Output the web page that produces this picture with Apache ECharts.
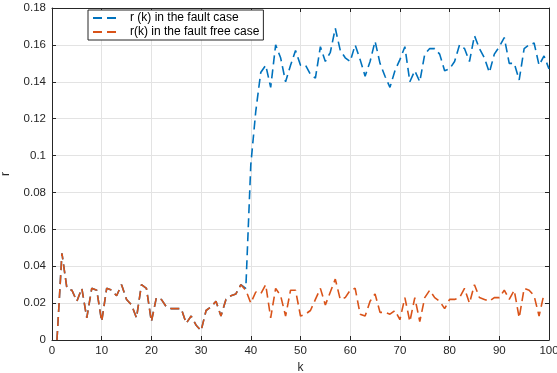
<!DOCTYPE html>
<html><head><meta charset="utf-8">
<script src="https://cdn.jsdelivr.net/npm/echarts@6/dist/echarts.min.js"></script>
<style>html,body{margin:0;padding:0;background:#fff}#c{width:557px;height:373px}</style>
</head><body><div id="c"></div>
<script>
// r(k) in the fault free case, k = 1..99
const faultFree = [0.000,0.047,0.028,0.027,0.021,0.028,0.012,0.028,0.027,0.010,
0.028,0.027,0.024,0.030,0.022,0.019,0.012,0.030,0.028,0.010,
0.023,0.022,0.018,0.017,0.017,0.017,0.009,0.013,0.008,0.005,
0.016,0.018,0.021,0.013,0.022,0.024,0.025,0.030,0.027,0.020,
0.026,0.025,0.030,0.012,0.028,0.024,0.013,0.027,0.027,0.013,
0.014,0.016,0.022,0.028,0.019,0.026,0.033,0.022,0.023,0.027,
0.028,0.014,0.013,0.021,0.025,0.015,0.015,0.014,0.016,0.011,
0.023,0.010,0.023,0.010,0.023,0.027,0.023,0.021,0.017,0.022,
0.022,0.023,0.028,0.020,0.030,0.023,0.022,0.021,0.023,0.023,
0.027,0.022,0.027,0.012,0.028,0.027,0.024,0.013,0.025];
// r(k) in the fault case, k = 1..100
const faultCase = [0.000,0.047,0.028,0.027,0.021,0.028,0.012,0.028,0.027,0.010,
0.028,0.027,0.024,0.030,0.022,0.019,0.012,0.030,0.028,0.010,
0.023,0.022,0.018,0.017,0.017,0.017,0.009,0.013,0.008,0.005,
0.016,0.018,0.021,0.013,0.022,0.024,0.025,0.030,0.028,0.095,
0.124,0.145,0.149,0.137,0.160,0.153,0.140,0.149,0.157,0.149,
0.149,0.144,0.142,0.159,0.151,0.156,0.169,0.157,0.153,0.151,
0.160,0.152,0.143,0.151,0.162,0.150,0.143,0.137,0.146,0.152,
0.159,0.140,0.146,0.140,0.155,0.158,0.158,0.155,0.146,0.147,
0.151,0.160,0.158,0.151,0.165,0.158,0.153,0.145,0.155,0.159,
0.164,0.150,0.150,0.141,0.158,0.160,0.161,0.149,0.154,0.147];
const seriesNames = ['r (k) in the fault case', 'r(k) in the fault free case'];
const xTicks = {min:0, max:100, interval:10};
const yTicks = {min:0, max:0.18, interval:0.02};

const toPairs = arr => arr.map((v,i)=>[i+1, v]);
const axisColor = '#262626';
const font = 'Liberation Sans, Arial, Helvetica, sans-serif';
const chart = echarts.init(document.getElementById('c'));
const baseX = {type:'value', min:xTicks.min, max:xTicks.max, interval:xTicks.interval,
  axisLine:{show:true, onZero:false, lineStyle:{color:axisColor, width:1}},
  axisTick:{show:true, inside:true, length:4, lineStyle:{color:axisColor}},
  splitLine:{show:false}};
const baseY = {type:'value', min:yTicks.min, max:yTicks.max, interval:yTicks.interval,
  axisLine:{show:true, onZero:false, lineStyle:{color:axisColor, width:1}},
  axisTick:{show:true, inside:true, length:4, lineStyle:{color:axisColor}},
  splitLine:{show:false}};
chart.setOption({
  animation:false,
  backgroundColor:'#fff',
  grid:{left:52, right:8, top:8, bottom:33, containLabel:false, outerBoundsMode:'none'},
  legend:{show:true, orient:'vertical', left:88, top:10,
    backgroundColor:'#fff', borderColor:axisColor, borderWidth:1, borderRadius:0,
    padding:[2,4,2,4], itemGap:2, itemWidth:24, itemHeight:10,
    itemStyle:{opacity:0},
    textStyle:{fontFamily:font, fontSize:12, color:'#000', padding:[0,0,0,8]},
    data:seriesNames},
  xAxis:[Object.assign({}, baseX, {position:'bottom', name:'k', nameLocation:'middle', nameGap:16,
      nameTextStyle:{fontFamily:font, fontSize:12, color:axisColor},
      axisLabel:{fontFamily:font, fontSize:11.5, color:axisColor, margin:5},
      splitLine:{show:true, lineStyle:{color:'#e3e3e3', width:1}}}),
    Object.assign({}, baseX, {position:'top', axisLabel:{show:false}})],
  yAxis:[Object.assign({}, baseY, {position:'left', name:'r', nameLocation:'middle', nameGap:40,
      nameTextStyle:{fontFamily:font, fontSize:12, color:axisColor},
      axisLabel:{fontFamily:font, fontSize:11.5, color:axisColor, margin:6,
        formatter:v=>String(+v.toFixed(2))},
      splitLine:{show:true, lineStyle:{color:'#e3e3e3', width:1}}}),
    Object.assign({}, baseY, {position:'right', axisLabel:{show:false}})],
  series:[
    {name:seriesNames[0], type:'line', data:toPairs(faultCase), symbol:'none', z:2,
      itemStyle:{color:'#0072BD'},
      lineStyle:{color:'#0072BD', width:1.6, type:[9,5]}},
    {name:seriesNames[1], type:'line', data:toPairs(faultFree), symbol:'none', z:3,
      itemStyle:{color:'#D95319'},
      lineStyle:{color:'#D95319', width:1.6, type:[9,5]}}
  ]
});
</script></body></html>
